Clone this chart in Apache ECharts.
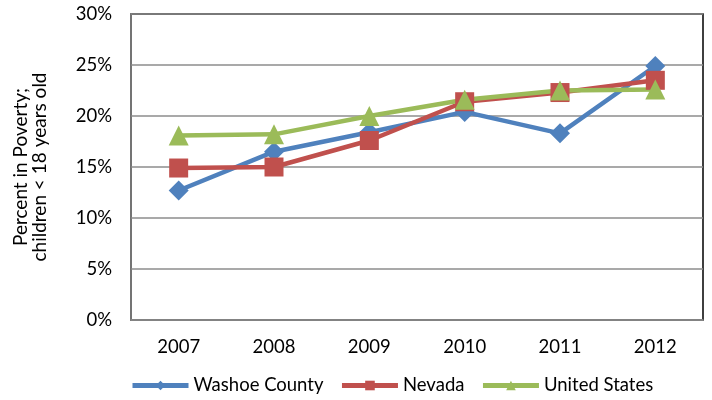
<!DOCTYPE html>
<html>
<head>
<meta charset="utf-8">
<script src="https://cdn.jsdelivr.net/npm/echarts@6/dist/echarts.min.js"></script>
<style>
  html, body { margin: 0; padding: 0; background: #fff; }
  #main { width: 712px; height: 400px; }
</style>
</head>
<body>
<div id="main"></div>
<script>
const years = ["2007", "2008", "2009", "2010", "2011", "2012"];
const washoe = [12.7, 16.5, 18.4, 20.4, 18.3, 24.9];
const nevada = [14.9, 15.0, 17.6, 21.4, 22.3, 23.5];
const unitedStates = [18.1, 18.2, 20.0, 21.6, 22.5, 22.6];

const font = "Lato, 'Open Sans', sans-serif";
const chart = echarts.init(document.getElementById("main"));

function lineSeries(name, data, color, symbol, size) {
  return {
    name: name,
    type: "line",
    data: data,
    symbol: symbol,
    symbolSize: size,
    showAllSymbol: true,
    lineStyle: { width: 4.5, color: color },
    itemStyle: { color: color },
    animation: false
  };
}

chart.setOption({
  textStyle: { fontFamily: font },
  grid: {
    left: 131, right: 9, top: 14, bottom: 80,
    show: true, borderColor: "#000", borderWidth: 1.5
  },
  xAxis: {
    type: "category",
    data: years,
    boundaryGap: true,
    axisLine: { lineStyle: { color: "#868686", width: 1.5 } },
    axisTick: { show: false },
    axisLabel: { color: "#000", fontSize: 18.5, margin: 18, fontFamily: font }
  },
  yAxis: {
    type: "value",
    min: 0, max: 30, interval: 5,
    name: "Percent in Poverty;\nchildren < 18 years old",
    nameLocation: "middle",
    nameGap: 82,
    nameTextStyle: { color: "#000", fontSize: 19, lineHeight: 19, fontFamily: font },
    axisLine: { show: true, lineStyle: { color: "#868686", width: 1.5 } },
    axisTick: { show: false },
    axisLabel: { color: "#000", fontSize: 18.5, margin: 19, formatter: "{value}%", fontFamily: font },
    splitLine: { lineStyle: { color: "#8c8c8c", width: 1.5 } }
  },
  legend: {
    bottom: 0,
    left: 125,
    itemWidth: 56,
    itemHeight: 12,
    itemGap: 16,
    lineStyle: { width: 5 },
    textStyle: { color: "#000", fontSize: 18.5, fontFamily: font },
    data: ["Washoe County", "Nevada", "United States"]
  },
  series: [
    lineSeries("Washoe County", washoe, "#4F81BD", "diamond", 20),
    lineSeries("Nevada", nevada, "#C0504D", "rect", 19),
    lineSeries("United States", unitedStates, "#9BBB59", "triangle", 20)
  ]
});
</script>
</body>
</html>
